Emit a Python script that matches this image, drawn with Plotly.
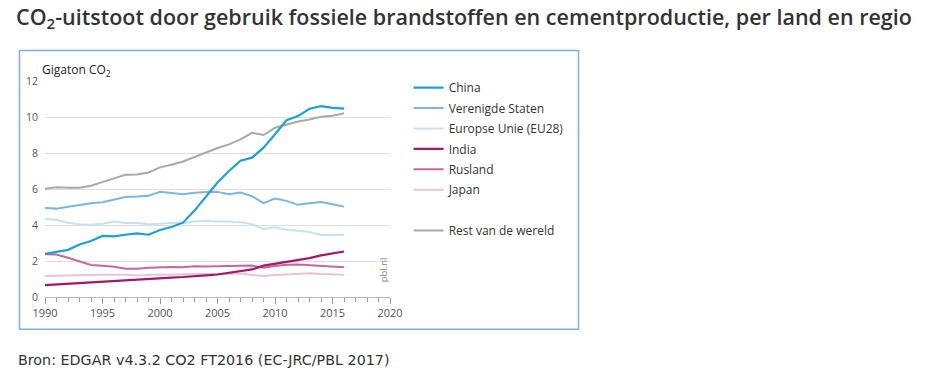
import plotly.graph_objects as go

years = list(range(1990, 2017))

china = [2.40, 2.53, 2.62, 2.92, 3.11, 3.39, 3.37, 3.46, 3.53, 3.46, 3.72, 3.89, 4.13, 4.80, 5.58,
         6.36, 7.00, 7.57, 7.74, 8.30, 9.04, 9.82, 10.05, 10.46, 10.60, 10.51, 10.47]
vs = [4.95, 4.91, 5.02, 5.13, 5.21, 5.27, 5.40, 5.56, 5.58, 5.62, 5.84, 5.79, 5.71, 5.79, 5.84,
      5.84, 5.71, 5.80, 5.60, 5.21, 5.47, 5.34, 5.12, 5.21, 5.28, 5.15, 5.02]
eu28 = [4.35, 4.28, 4.13, 4.04, 4.02, 4.07, 4.19, 4.11, 4.11, 4.04, 4.07, 4.13, 4.11, 4.20, 4.24,
        4.19, 4.19, 4.15, 4.04, 3.78, 3.87, 3.74, 3.68, 3.61, 3.44, 3.46, 3.46]
india = [0.66, 0.70, 0.74, 0.77, 0.81, 0.87, 0.91, 0.96, 0.98, 1.03, 1.06, 1.08, 1.11, 1.14, 1.20,
         1.25, 1.33, 1.42, 1.53, 1.74, 1.84, 1.95, 2.08, 2.16, 2.31, 2.42, 2.53]
rusland = [2.38, 2.36, 2.18, 1.98, 1.78, 1.73, 1.68, 1.57, 1.57, 1.62, 1.65, 1.66, 1.65, 1.71, 1.70,
           1.70, 1.73, 1.73, 1.75, 1.62, 1.72, 1.79, 1.80, 1.77, 1.70, 1.68, 1.65]
japan = [1.16, 1.17, 1.18, 1.17, 1.22, 1.24, 1.25, 1.24, 1.20, 1.23, 1.25, 1.24, 1.27, 1.28, 1.28,
         1.29, 1.28, 1.31, 1.22, 1.16, 1.22, 1.26, 1.30, 1.32, 1.28, 1.25, 1.24]
rest = [6.01, 6.10, 6.07, 6.07, 6.18, 6.40, 6.59, 6.79, 6.81, 6.92, 7.20, 7.35, 7.53, 7.78, 8.04,
        8.28, 8.48, 8.76, 9.12, 9.00, 9.40, 9.58, 9.75, 9.86, 10.01, 10.07, 10.21]

series_names = ["China", "Verenigde Staten", "Europse Unie (EU28)", "India", "Rusland", "Japan",
                "Rest van de wereld"]
series_values = [china, vs, eu28, india, rusland, japan, rest]
series_colors = ["#1f9fd5", "#7ab6e2", "#c6e1f3", "#a3186b", "#c4699d", "#e5c6d8", "#a9a9a9"]
series_widths = [2.2, 2, 2, 2.2, 2, 2, 2]
# legend rank; Rest leaves one empty row above it
series_ranks = [1, 2, 3, 4, 5, 6, 8]

x_tickvals = [1990, 1995, 2000, 2005, 2010, 2015, 2020]
y_tickvals = [0, 2, 4, 6, 8, 10, 12]

fig = go.Figure()
# draw order: lighter lines first so China on top
order = [6, 5, 4, 2, 1, 3, 0]
for i in order:
    fig.add_trace(go.Scatter(
        x=years, y=series_values[i], mode="lines", name=series_names[i],
        line=dict(color=series_colors[i], width=series_widths[i]),
        legendgroup=f"g{i}", legendrank=series_ranks[i], hoverinfo="x+y+name",
    ))
# empty legend spacer row (no data, nothing drawn)
fig.add_trace(go.Scatter(x=[None], y=[None], mode="lines", name=" ",
                         line=dict(color="rgba(0,0,0,0)", width=0),
                         legendgroup="spacer", legendrank=7, hoverinfo="skip"))

FONT = "Open Sans"
fig.update_layout(
    width=928, height=388,
    paper_bgcolor="white", plot_bgcolor="white",
    margin=dict(l=45, r=538, t=81, b=91),
    showlegend=True,
    legend=dict(x=1.054, xanchor="left", y=1.036, yanchor="top",
                font=dict(family=FONT, size=12, color="#333333"),
                tracegroupgap=1.4, itemwidth=30, traceorder="grouped",
                bgcolor="rgba(0,0,0,0)"),
    title=dict(text="CO<sub>2</sub>-uitstoot door gebruik fossiele brandstoffen en cementproductie, per land en regio",
               x=16 / 928, xanchor="left", y=1 - 17 / 388, yanchor="middle",
               font=dict(family=FONT, size=21.5, color="#333333", weight=600)),
    xaxis=dict(range=[1990, 2020], tickvals=x_tickvals, ticks="outside", ticklen=6,
               tickcolor="#999999", showgrid=False, showline=True, linecolor="#bbbbbb",
               tickfont=dict(family=FONT, size=11, color="#555555"),
               minor=dict(dtick=1, ticks="outside", ticklen=4, tickcolor="#999999", showgrid=False),
               zeroline=False, fixedrange=True),
    yaxis=dict(range=[0, 12], tickvals=y_tickvals, showgrid=True, gridcolor="#dedede",
               gridwidth=1, zeroline=False, ticks="", showline=False,
               tickfont=dict(family=FONT, size=10.5, color="#555555"), ticklabelstandoff=6,
               fixedrange=True),
    shapes=[dict(type="rect", xref="paper", yref="paper",
                 x0=(19.5 - 45) / 345, x1=(578.5 - 45) / 345,
                 y0=(296.7 - 329) / 215.7, y1=(296.7 - 50.5) / 215.7,
                 line=dict(color="#7fb0da", width=1.5), fillcolor="rgba(0,0,0,0)", layer="below")],
    annotations=[
        dict(text="Gigaton CO<sub>2</sub>", xref="paper", yref="paper", x=(40 - 45) / 345,
             y=(296.7 - 70) / 215.7, xanchor="left", yanchor="middle", showarrow=False,
             font=dict(family=FONT, size=12, color="#222222")),
        dict(text="pbl.nl", xref="paper", yref="paper", x=(383 - 45) / 345,
             y=(296.7 - 270) / 215.7, xanchor="center", yanchor="middle", showarrow=False,
             textangle=-90, font=dict(family=FONT, size=9.5, color="#888888")),
        dict(text="Bron: EDGAR v4.3.2 CO2 FT2016 (EC-JRC/PBL 2017)", xref="paper", yref="paper",
             x=(16 - 45) / 345, y=(296.7 - 360) / 215.7, xanchor="left", yanchor="middle",
             showarrow=False, font=dict(family="DejaVu Sans", size=14.3, color="#333333")),
    ],
)

fig.write_html("out.html", config={"displayModeBar": False},
               post_script="document.body.style.margin='0';document.body.style.padding='0';"
                           "document.body.style.overflow='hidden';")
